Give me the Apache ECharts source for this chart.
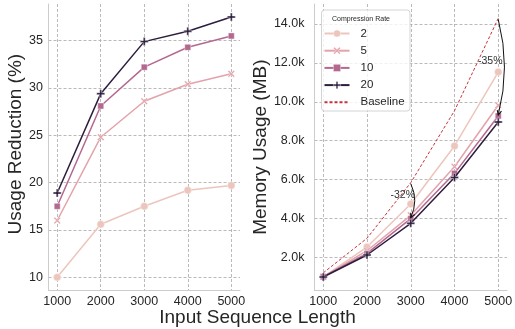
<!DOCTYPE html>
<html><head><meta charset="utf-8">
<script src="https://cdn.jsdelivr.net/npm/echarts@6/dist/echarts.min.js"></script>
<style>html,body{margin:0;padding:0;background:#fff}#c{width:515px;height:329px}</style>
</head><body><div id="c"></div>
<script>
// ---- data ----
const seqLen = [1000, 2000, 3000, 4000, 5000];
const rateNames = ['2', '5', '10', '20'];
const reduction2 = [10.0, 15.6, 17.5, 19.2, 19.7];
const reduction5 = [16.0, 24.8, 28.6, 30.4, 31.5];
const reduction10 = [17.5, 28.1, 32.2, 34.3, 35.5];
const reduction20 = [18.9, 29.4, 34.9, 36.0, 37.5];
const memory2 = [1000, 2530, 4740, 7730, 11530];
const memory5 = [1000, 2340, 4160, 6660, 9820];
const memory10 = [1000, 2200, 3990, 6320, 9270];
const memory20 = [990, 2120, 3750, 6110, 8960];
const memoryBaseline = [1200, 2980, 5840, 9540, 14290];
const xTicks = [1000, 2000, 3000, 4000, 5000];
const leftTicks = [10, 15, 20, 25, 30, 35];
const rightTicks = [2000, 4000, 6000, 8000, 10000, 12000, 14000];
const annotationIdx = [2, 4];
const annotationText = ['-32%', '-35%'];

// ---- style ----
const colors = ['#ecc6bd', '#e2a3aa', '#b4688f', '#2d1e3e'];
const baseColor = '#c8323a';
const symbols = [
  'circle',
  'path://M0,1.6L1.6,0L5,3.4L8.4,0L10,1.6L6.6,5L10,8.4L8.4,10L5,6.6L1.6,10L0,8.4L3.4,5Z',
  'rect',
  'path://M3.8,0H6.2V3.8H10V6.2H6.2V10H3.8V6.2H0V3.8H3.8Z'
];
const symSizes = [7.5, 7, 6, 8];
const txt = '#262626';
const font = 'Liberation Sans, Arial, sans-serif';

const reductions = [reduction2, reduction5, reduction10, reduction20];
const memories = [memory2, memory5, memory10, memory20];

function xAxisCfg(gi) {
  return {
    type: 'value', gridIndex: gi, min: 800, max: 5200,
    axisLine: {show: true, lineStyle: {color: '#cccccc', width: 1}},
    axisTick: {show: false, customValues: xTicks},
    axisLabel: {customValues: xTicks, color: txt, fontSize: 12.5, fontFamily: font, margin: 5,
                formatter: v => String(v)},
    splitLine: {show: true, lineStyle: {color: '#a8a8a8', type: [3, 2], width: 0.8}}
  };
}

const series = [];
rateNames.forEach((n, i) => {
  series.push({
    name: n, type: 'line', xAxisIndex: 0, yAxisIndex: 0,
    data: seqLen.map((x, j) => [x, reductions[i][j]]),
    symbol: symbols[i], symbolSize: symSizes[i], showSymbol: true,
    lineStyle: {color: colors[i], width: 1.5},
    itemStyle: {color: colors[i], borderColor: '#fff', borderWidth: 0.4},
    z: 2 + i, animation: false
  });
});
rateNames.forEach((n, i) => {
  series.push({
    name: n, type: 'line', xAxisIndex: 1, yAxisIndex: 1,
    data: seqLen.map((x, j) => [x, memories[i][j]]),
    symbol: symbols[i], symbolSize: symSizes[i], showSymbol: true,
    lineStyle: {color: colors[i], width: 1.5},
    itemStyle: {color: colors[i], borderColor: '#fff', borderWidth: 0.4},
    z: 2 + i, animation: false
  });
});
series.push({
  name: 'Baseline', type: 'line', xAxisIndex: 1, yAxisIndex: 1,
  data: seqLen.map((x, j) => [x, memoryBaseline[j]]),
  symbol: 'none',
  lineStyle: {color: baseColor, width: 1, type: [3, 2]},
  itemStyle: {color: baseColor},
  z: 6, animation: false
});
series.push({
  type: 'custom', xAxisIndex: 1, yAxisIndex: 1, clip: false, z: 7, silent: true,
  animation: false,
  data: annotationIdx.map(k => [seqLen[k], memoryBaseline[k], memory10[k]]),
  encode: {x: 0, y: [1, 2]},
  renderItem: function (params, api) {
    const x = api.value(0);
    const p0 = api.coord([x, api.value(1)]);
    const p2 = api.coord([x, api.value(2)]);
    const s0 = [p0[0], p0[1] + 1];
    const s2 = [p2[0], p2[1] - 1];
    const dist = Math.abs(s2[1] - s0[1]);
    const off = Math.max(0.13 * dist, 8);
    const cp = [(s0[0] + s2[0]) / 2 + off, (s0[1] + s2[1]) / 2];
    let dx = s2[0] - cp[0], dy = s2[1] - cp[1];
    const L = Math.sqrt(dx * dx + dy * dy); dx /= L; dy /= L;
    const hl = 5, ang = 0.45;
    const rot = (a) => [dx * Math.cos(a) - dy * Math.sin(a), dx * Math.sin(a) + dy * Math.cos(a)];
    const r1 = rot(ang), r2 = rot(-ang);
    const label = annotationText[params.dataIndex];
    return {
      type: 'group',
      children: [
        {type: 'bezierCurve', shape: {x1: s0[0], y1: s0[1], x2: s2[0], y2: s2[1], cpx1: cp[0], cpy1: cp[1]},
         style: {stroke: '#111', fill: null, lineWidth: 1}},
        {type: 'polyline', shape: {points: [[s2[0] - r1[0] * hl, s2[1] - r1[1] * hl], s2, [s2[0] - r2[0] * hl, s2[1] - r2[1] * hl]]},
         style: {stroke: '#111', fill: null, lineWidth: 1.1}},
        {type: 'text', x: p0[0] - 8, y: (p0[1] + p2[1]) / 2 - 6,
         style: {text: label, fontSize: 10.5, fontFamily: font, fill: '#333', align: 'center', verticalAlign: 'middle'}}
      ]
    };
  }
});

const option = {
  backgroundColor: '#ffffff',
  animation: false,
  textStyle: {fontFamily: font},
  title: {
    text: 'Input Sequence Length', left: 'center', top: 303,
    textStyle: {fontSize: 19, fontWeight: 'normal', color: txt, fontFamily: font}
  },
  grid: [
    {left: 48.5, top: 4, width: 191.5, height: 286.3, containLabel: false, outerBoundsMode: 'none'},
    {left: 314.5, top: 4, width: 192.5, height: 286.3, containLabel: false, outerBoundsMode: 'none'}
  ],
  xAxis: [xAxisCfg(0), xAxisCfg(1)],
  yAxis: [
    {
      type: 'value', gridIndex: 0, min: 8.625, max: 38.875,
      name: 'Usage Reduction (%)', nameLocation: 'middle', nameGap: 22,
      nameTextStyle: {fontSize: 19, color: txt, fontFamily: font, padding: [0, 0, 0, 6]},
      axisLine: {show: true, lineStyle: {color: '#cccccc', width: 1}},
      axisTick: {show: false, customValues: leftTicks},
      axisLabel: {customValues: leftTicks, color: txt, fontSize: 12.5, fontFamily: font, margin: 5.5},
      splitLine: {show: true, lineStyle: {color: '#a8a8a8', type: [3, 2], width: 0.8}}
    },
    {
      type: 'value', gridIndex: 1, min: 305, max: 15029,
      name: 'Memory Usage (MB)', nameLocation: 'middle', nameGap: 40,
      nameTextStyle: {fontSize: 19, color: txt, fontFamily: font},
      axisLine: {show: true, lineStyle: {color: '#cccccc', width: 1}},
      axisTick: {show: false, customValues: rightTicks},
      axisLabel: {customValues: rightTicks, color: txt, fontSize: 12.5, fontFamily: font, margin: 10,
                  formatter: v => (v / 1000).toFixed(1) + 'k'},
      splitLine: {show: true, lineStyle: {color: '#a8a8a8', type: [3, 2], width: 0.8}}
    }
  ],
  legend: {
    orient: 'vertical', left: 323.5, top: 27.5, padding: 0,
    data: ['2', '5', '10', '20', {name: 'Baseline', itemStyle: {opacity: 0}}],
    itemWidth: 25, itemHeight: 9, itemGap: 5.2,
    itemStyle: {borderWidth: 0.4, borderColor: '#fff'},
    textStyle: {fontSize: 11.5, color: txt, fontFamily: font, padding: [0, 0, 0, 6]},
    z: 6, selectedMode: false
  },
  graphic: [
    {type: 'rect', z: 5, shape: {x: 321.5, y: 10, width: 88.5, height: 101, r: 3},
     style: {fill: 'rgba(255,255,255,0.8)', stroke: '#d4d4d4', lineWidth: 1}},
    {type: 'text', z: 7, x: 361, y: 19,
     style: {text: 'Compression Rate', fontSize: 7, fontFamily: font, fill: txt, align: 'center', verticalAlign: 'middle'}}
  ],
  series: series
};
const chart = echarts.init(document.getElementById('c'), null, {renderer: 'canvas'});
chart.setOption(option);
</script></body></html>
